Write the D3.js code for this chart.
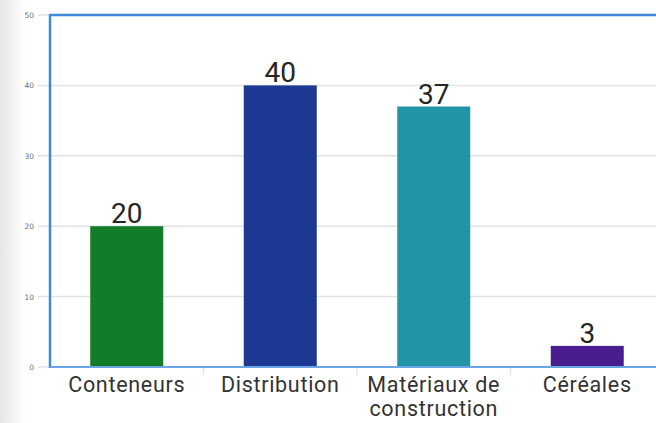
<!DOCTYPE html>
<html>
<head>
<meta charset="utf-8">
<script src="https://cdn.jsdelivr.net/npm/d3@7"></script>
<style>
  html, body { margin: 0; padding: 0; background: #fff; }
  svg { display: block; }
</style>
</head>
<body>
<svg id="chart" width="656" height="423"></svg>
<script>
// Tonnage by cargo category
const categories = ["Conteneurs", "Distribution", "Matériaux de construction", "Céréales"];
const values = [20, 40, 37, 3];
const barColors = ["#127c28", "#1c3893", "#2195a5", "#4a1d8e"];
const yTicks = [0, 10, 20, 30, 40, 50];

const svg = d3.select("#chart");
const W = 656, H = 423;
const margin = { left: 50, top: 15, right: -8, bottom: 56 };
const plotW = W - margin.left - margin.right;
const plotH = H - margin.top - margin.bottom;

// faint shadow along the left edge
const defs = svg.append("defs");
const grad = defs.append("linearGradient").attr("id", "edge").attr("x1", 0).attr("x2", 1);
grad.append("stop").attr("offset", 0).attr("stop-color", "#e6e6e6");
grad.append("stop").attr("offset", 1).attr("stop-color", "#ffffff");
svg.append("rect").attr("x", 0).attr("y", 0).attr("width", 26).attr("height", H).attr("fill", "url(#edge)");

const x = d3.scaleBand().domain(categories).range([0, plotW]).paddingInner(0).paddingOuter(0);
const y = d3.scaleLinear().domain([0, 50]).range([plotH, 0]);

const g = svg.append("g").attr("transform", `translate(${margin.left},${margin.top})`);

// horizontal grid lines with short outer ticks
g.append("g").selectAll("line").data(yTicks).join("line")
  .attr("x1", -12).attr("x2", plotW)
  .attr("y1", d => y(d)).attr("y2", d => y(d))
  .attr("stroke", "#e2e2e2").attr("stroke-width", 1.5);

// y axis labels
const yAxis = d3.axisLeft(y).tickValues(yTicks).tickSize(0).tickPadding(16);
const ya = g.append("g").call(yAxis);
ya.select(".domain").remove();
ya.selectAll("text")
  .attr("font-family", "DejaVu Sans, sans-serif")
  .attr("font-size", 7.5).attr("fill", "#6f6f6f");

// category separators below the baseline
g.append("g").selectAll("line").data(categories.slice(1)).join("line")
  .attr("x1", d => x(d)).attr("x2", d => x(d))
  .attr("y1", plotH).attr("y2", plotH + 8)
  .attr("stroke", "#dde6f2").attr("stroke-width", 1.5);

// bars
const barW = 73;
g.selectAll("rect.bar").data(values).join("rect")
  .attr("class", "bar")
  .attr("x", (d, i) => x(categories[i]) + (x.bandwidth() - barW) / 2)
  .attr("y", d => y(d))
  .attr("width", barW)
  .attr("height", d => plotH - y(d))
  .attr("fill", (d, i) => barColors[i]);

// plot frame: top, left, baseline
g.append("line").attr("x1", 0).attr("x2", plotW).attr("y1", 0).attr("y2", 0)
  .attr("stroke", "#3f8ad6").attr("stroke-width", 2.5);
g.append("line").attr("x1", 0).attr("x2", 0).attr("y1", -1).attr("y2", plotH + 1)
  .attr("stroke", "#3f8ad6").attr("stroke-width", 2.5);
g.append("line").attr("x1", 0).attr("x2", plotW).attr("y1", plotH).attr("y2", plotH)
  .attr("stroke", "#6aa6e3").attr("stroke-width", 2);

// value labels
g.selectAll("text.val").data(values).join("text")
  .attr("class", "val")
  .attr("x", (d, i) => x(categories[i]) + x.bandwidth() / 2)
  .attr("y", d => y(d) - 3)
  .attr("text-anchor", "middle")
  .attr("font-family", "Roboto, sans-serif")
  .attr("font-size", 28)
  .attr("fill", "#262626")
  .text(d => d);

// category labels, wrapped onto two lines where needed
const catLines = { "Matériaux de construction": ["Matériaux de", "construction"] };
const cl = g.selectAll("text.cat").data(categories).join("text")
  .attr("class", "cat")
  .attr("x", d => x(d) + x.bandwidth() / 2)
  .attr("y", plotH + 25)
  .attr("text-anchor", "middle")
  .attr("font-family", "Roboto, sans-serif")
  .attr("font-size", 21.5)
  .attr("letter-spacing", 0.7)
  .attr("fill", "#333");
cl.each(function(d) {
  const lines = catLines[d] || [d];
  d3.select(this).selectAll("tspan").data(lines).join("tspan")
    .attr("x", x(d) + x.bandwidth() / 2)
    .attr("dy", (l, i) => i === 0 ? 0 : 24)
    .text(l => l);
});
</script>
</body>
</html>
